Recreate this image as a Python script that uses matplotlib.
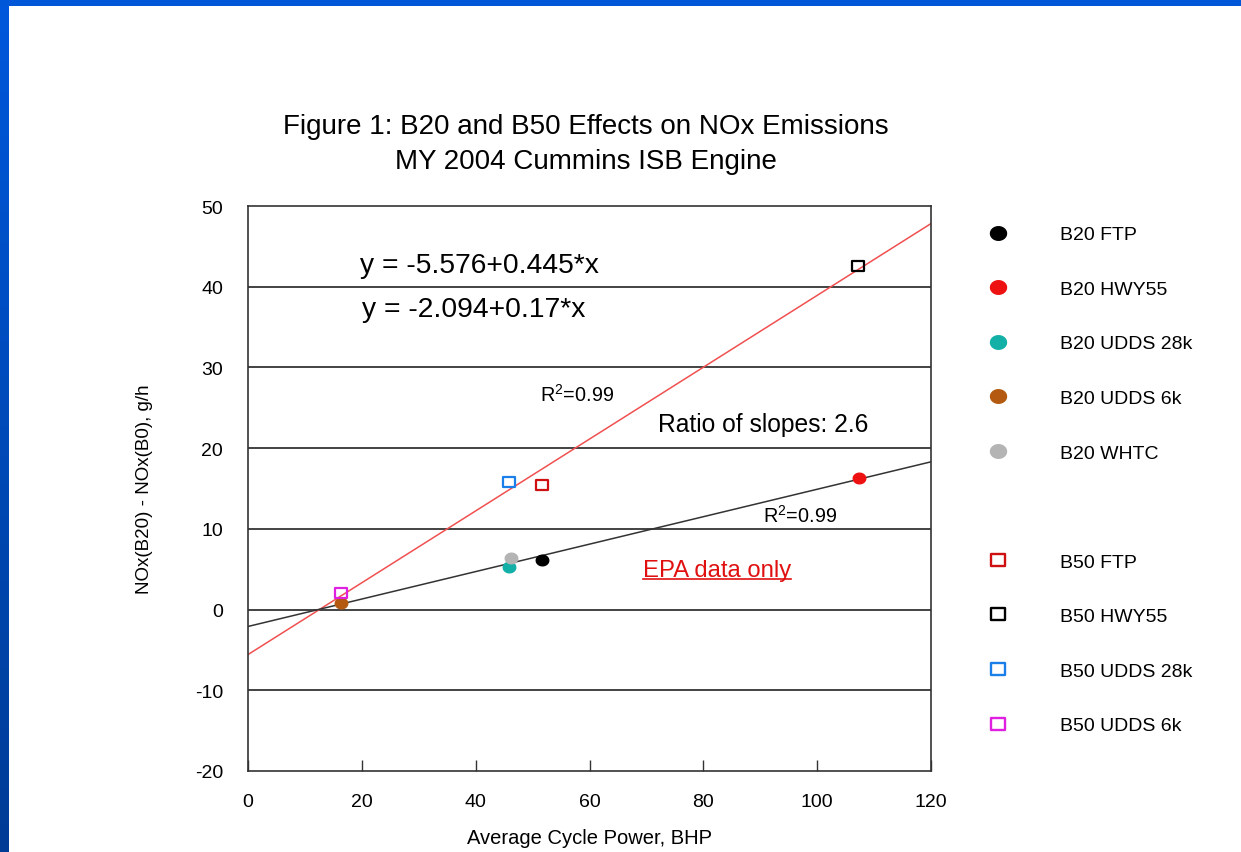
import numpy as np
import matplotlib
matplotlib.use("Agg")
import matplotlib.pyplot as plt
from matplotlib.lines import Line2D
from matplotlib.path import Path
from matplotlib.colors import LinearSegmentedColormap

plt.rcParams['font.family'] = ['Liberation Sans', 'DejaVu Sans']
plt.rcParams['mathtext.fontset'] = 'custom'
plt.rcParams['mathtext.rm'] = 'Liberation Sans'
plt.rcParams['mathtext.it'] = 'Liberation Sans:italic'
plt.rcParams['axes.unicode_minus'] = False

# ---- data ----
b20_labels = ["B20 FTP", "B20 HWY55", "B20 UDDS 28k", "B20 UDDS 6k", "B20 WHTC"]
b20_x = [51.6, 107.3, 45.9, 16.3, 46.2]
b20_y = [6.1, 16.3, 5.3, 0.8, 6.4]
b20_colors = ["#000000", "#ee1111", "#13b0a8", "#b45a10", "#b4b4b4"]

b50_labels = ["B50 FTP", "B50 HWY55", "B50 UDDS 28k", "B50 UDDS 6k"]
b50_x = [51.6, 107.2, 45.9, 16.3]
b50_y = [15.4, 42.6, 15.8, 2.0]
b50_colors = ["#d01010", "#000000", "#1a7fe8", "#e020e0"]

fit_b50 = (-5.576, 0.445)
fit_b20 = (-2.094, 0.17)

x_ticks = [0, 20, 40, 60, 80, 100, 120]
y_ticks = [-20, -10, 0, 10, 20, 30, 40, 50]

# slightly wide (stretched) marker shapes
_t = np.linspace(0, 2 * np.pi, 60)
ELLIPSE = Path(np.column_stack([1.18 * np.cos(_t), np.sin(_t)]), closed=True)
RECT = Path([(-1.15, -1), (1.15, -1), (1.15, 1), (-1.15, 1), (-1.15, -1)], closed=True)

W, H = 1241, 853
fig = plt.figure(figsize=(W / 100, H / 100), dpi=100, facecolor="white")

# blue slide border
lb = fig.add_axes([0, 0, 9 / W, 1])
grad = np.linspace(0, 1, 256).reshape(-1, 1)
cm = LinearSegmentedColormap.from_list("b", ["#003c96", "#0058dc"])
lb.imshow(grad, aspect="auto", cmap=cm, origin="lower", extent=[0, 1, 0, 1])
lb.axis("off")
tb = fig.add_axes([0, 1 - 7 / H, 1, 7 / H])
tb.set_facecolor("#0057d8")
tb.set_xticks([]); tb.set_yticks([])
for s in tb.spines.values():
    s.set_visible(False)

ax = fig.add_axes([248 / W, 1 - 772 / H, (931 - 248) / W, (772 - 207) / H])
ax.set_xlim(0, 120)
ax.set_ylim(-20, 50)
ax.set_xticks(x_ticks)
ax.set_yticks(y_ticks)
ax.tick_params(axis="x", direction="in", length=8, width=1, pad=16, labelsize=14, color="#333")
ax.tick_params(axis="y", direction="in", length=0, pad=18, labelsize=14)
for s in ax.spines.values():
    s.set_color("#333333")
    s.set_linewidth(1.2)
for yv in y_ticks[1:-1]:
    ax.axhline(yv, color="#222222", lw=1.2, zorder=1)

xx = np.array([0, 120])
ax.plot(xx, fit_b50[0] + fit_b50[1] * xx, color="#f05050", lw=1.1, zorder=2)
ax.plot(xx, fit_b20[0] + fit_b20[1] * xx, color="#333333", lw=1.1, zorder=2)

handles = []
for lab, x, y, c in zip(b20_labels, b20_x, b20_y, b20_colors):
    ax.plot([x], [y], marker=ELLIPSE, ls="", color=c, ms=9, mec=c, zorder=4, clip_on=False)
    handles.append(Line2D([], [], marker=ELLIPSE, ls="", color=c, mec=c, ms=11.5, label=lab))
handles.append(Line2D([], [], ls="", marker="", label=" "))
for lab, x, y, c in zip(b50_labels, b50_x, b50_y, b50_colors):
    ax.plot([x], [y], marker=RECT, ls="", mfc="none", mec=c, mew=1.6, ms=8.5, zorder=5, clip_on=False)
    handles.append(Line2D([], [], marker=RECT, ls="", mfc="none", mec=c, mew=1.7, ms=10.5, label=lab))

fig.legend(handles=handles, loc="upper left", bbox_to_anchor=(979 / W, 1 - 219 / H),
           frameon=False, fontsize=14, labelspacing=1.9, handlelength=1.2,
           handletextpad=2.59, borderaxespad=0)

ax.text(19.7, 42.7, "y = -5.576+0.445*x", fontsize=20.3, va="center", ha="left")
ax.text(20.0, 37.2, "y = -2.094+0.17*x", fontsize=20.3, va="center", ha="left")
ax.text(51.3, 26.7, r"R$^2$=0.99", fontsize=14.3, va="center", ha="left")
ax.text(90.5, 11.7, r"R$^2$=0.99", fontsize=14.3, va="center", ha="left")
ax.text(72.0, 23.0, "Ratio of slopes: 2.6", fontsize=17.7, va="center", ha="left")
epa = ax.text(69.4, 4.9, "EPA data only", fontsize=17.2, va="center", ha="left", color="#e01010")

ax.set_xlabel("Average Cycle Power, BHP", fontsize=14.5, labelpad=12.5)
ax.set_ylabel("NOx(B20) - NOx(B0), g/h", fontsize=13.5, labelpad=30)

fig.text(586 / W, 1 - 144.5 / H, "Figure 1: B20 and B50 Effects on NOx Emissions\nMY 2004 Cummins ISB Engine",
         ha="center", va="center", fontsize=20, linespacing=1.45)

# underline for EPA text
fig.canvas.draw()
bb = epa.get_window_extent(renderer=fig.canvas.get_renderer())
uy = (bb.y0 + 2) / H
fig.add_artist(Line2D([bb.x0 / W, bb.x1 / W], [uy, uy], transform=fig.transFigure,
                      color="#e01010", lw=1.2))

fig.savefig("out.png", dpi=100, facecolor="white")
